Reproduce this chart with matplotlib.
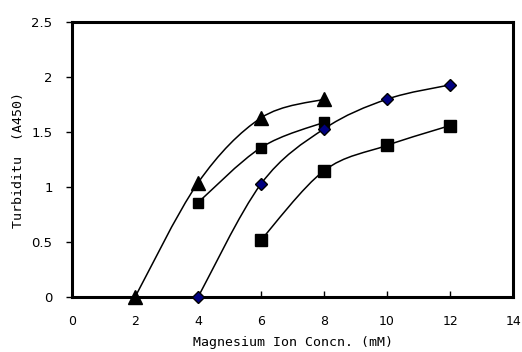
import numpy as np
import matplotlib
matplotlib.use("Agg")
import matplotlib.pyplot as plt
from matplotlib.path import Path
from matplotlib.patches import PathPatch

# data
tri_x = [2, 4, 6, 8]
tri_y = [0.0, 1.04, 1.63, 1.80]
sq1_x = [4, 6, 8]
sq1_y = [0.86, 1.36, 1.59]
dia_x = [4, 6, 8, 10, 12]
dia_y = [0.0, 1.03, 1.53, 1.80, 1.93]
sq2_x = [6, 8, 10, 12]
sq2_y = [0.52, 1.15, 1.38, 1.56]

xticks = [0, 2, 4, 6, 8, 10, 12, 14]
yticks = [0, 0.5, 1, 1.5, 2, 2.5]


def smooth_line(ax, xs, ys, **kw):
    # Excel-like smoothed line (Catmull-Rom as cubic Bezier)
    p = np.column_stack([xs, ys]).astype(float)
    n = len(p)
    verts = [p[0]]
    codes = [Path.MOVETO]
    for i in range(n - 1):
        p0 = p[i - 1] if i > 0 else p[i]
        p1 = p[i]
        p2 = p[i + 1]
        p3 = p[i + 2] if i + 2 < n else p[i + 1]
        c1 = p1 + (p2 - p0) / 6.0
        c2 = p2 - (p3 - p1) / 6.0
        verts += [c1, c2, p2]
        codes += [Path.CURVE4] * 3
    patch = PathPatch(Path(verts, codes), facecolor="none", **kw)
    ax.add_patch(patch)


fig = plt.figure(figsize=(5.22, 3.52), dpi=100)
ax = fig.add_axes([0.138, 0.156, 0.845, 0.781])

line_kw = dict(edgecolor="black", linewidth=1.1, zorder=2)
for xs, ys in [(tri_x, tri_y), (sq1_x, sq1_y), (dia_x, dia_y), (sq2_x, sq2_y)]:
    smooth_line(ax, xs, ys, **line_kw)

ax.plot(tri_x, tri_y, linestyle="none", marker="^", markersize=10,
        color="black", zorder=3, clip_on=False)
ax.plot(sq1_x, sq1_y, linestyle="none", marker="s", markersize=7.5,
        color="black", zorder=3, clip_on=False)
ax.plot(sq2_x, sq2_y, linestyle="none", marker="s", markersize=8.5,
        color="black", zorder=3, clip_on=False)
ax.plot(dia_x, dia_y, linestyle="none", marker="D", markersize=6.5,
        markerfacecolor="#000080", markeredgecolor="black", markeredgewidth=1,
        zorder=4, clip_on=False)

ax.set_xlim(0, 14)
ax.set_ylim(0, 2.5)
ax.set_xticks(xticks)
ax.set_xticklabels([str(t) for t in xticks])
ax.set_yticks(yticks)
ax.set_yticklabels(["0", "0.5", "1", "1.5", "2", "2.5"])

for s in ax.spines.values():
    s.set_linewidth(2.2)
ax.tick_params(axis="x", direction="in", length=4, width=1, labelsize=9, pad=13)
ax.tick_params(axis="y", direction="out", length=4, width=1, labelsize=9.5, pad=10)

ax.set_xlabel("Magnesium Ion Concn. (mM)", family="DejaVu Sans Mono",
              fontsize=9.5, labelpad=6)
ax.set_ylabel("Turbiditu  (A450)", family="DejaVu Sans Mono",
              fontsize=9.5, labelpad=5)

fig.savefig("out.png", dpi=100)
